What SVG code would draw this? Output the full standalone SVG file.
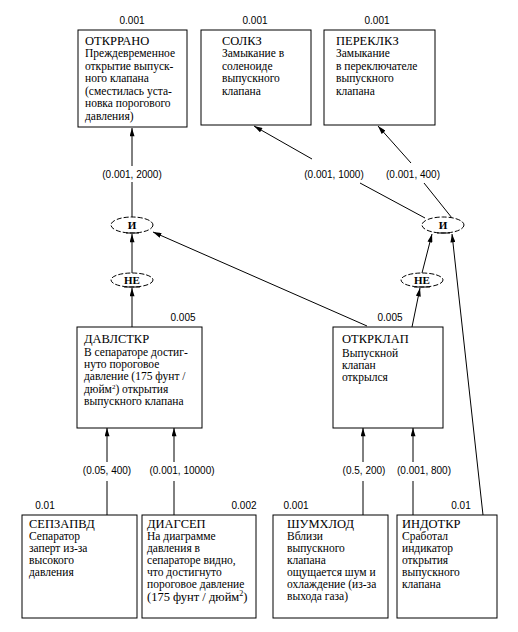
<svg xmlns="http://www.w3.org/2000/svg" width="518" height="632" viewBox="0 0 518 632">
<style>
.box{fill:#fff;stroke:#000;stroke-width:1}
.t{font-family:'Liberation Serif','Times New Roman',serif;font-size:12.5px;fill:#000}
.b{font-family:'Liberation Serif','Times New Roman',serif;font-size:11.5px;fill:#000}
.p{font-family:'Liberation Sans',Arial,sans-serif;font-size:10px;fill:#000;text-anchor:middle}
.g{fill:#fff;stroke:#000;stroke-width:1;stroke-dasharray:5 2}
.gl{font-family:'Liberation Serif','Times New Roman',serif;font-size:11px;font-weight:bold;fill:#000;text-anchor:middle}
.c{fill:none;stroke:#000;stroke-width:1}
.u{stroke:#000;stroke-width:1}
</style>
<defs>
<marker id="ah" viewBox="0 0 10 6" refX="10" refY="3" markerWidth="9" markerHeight="5" markerUnits="userSpaceOnUse" orient="auto">
<path d="M0,0 L10,3 L0,6 z" fill="#000"/>
</marker>
</defs>
<rect width="518" height="632" fill="#fff"/>

<g id="connectors">
<line class="c" x1="132" y1="217" x2="132" y2="182"/>
<line class="c" x1="132" y1="166" x2="132" y2="128" marker-end="url(#ah)"/>
<line class="c" x1="132" y1="273" x2="132" y2="234" marker-end="url(#ah)"/>
<line class="c" x1="132" y1="327" x2="132" y2="288" marker-end="url(#ah)"/>
<line class="c" x1="367" y1="326" x2="153" y2="232" marker-end="url(#ah)"/>
<line class="c" x1="425" y1="218" x2="360" y2="183"/>
<line class="c" x1="312" y1="159" x2="254" y2="126" marker-end="url(#ah)"/>
<line class="c" x1="452" y1="218" x2="424" y2="183"/>
<line class="c" x1="411" y1="163" x2="378" y2="126" marker-end="url(#ah)"/>
<line class="c" x1="422" y1="273" x2="432" y2="234" marker-end="url(#ah)"/>
<line class="c" x1="412" y1="327" x2="420" y2="288" marker-end="url(#ah)"/>
<line class="c" x1="483" y1="515" x2="452" y2="234" marker-end="url(#ah)"/>
<line class="c" x1="107" y1="515" x2="107" y2="481"/>
<line class="c" x1="107" y1="462" x2="107" y2="428" marker-end="url(#ah)"/>
<line class="c" x1="174" y1="515" x2="174" y2="481"/>
<line class="c" x1="174" y1="462" x2="174" y2="428" marker-end="url(#ah)"/>
<line class="c" x1="363" y1="515" x2="363" y2="481"/>
<line class="c" x1="363" y1="462" x2="363" y2="428" marker-end="url(#ah)"/>
<line class="c" x1="413" y1="515" x2="413" y2="481"/>
<line class="c" x1="413" y1="462" x2="413" y2="428" marker-end="url(#ah)"/>
<text class="p" x="132" y="178">(0.001, 2000)</text>
<text class="p" x="334" y="178">(0.001, 1000)</text>
<text class="p" x="413" y="178">(0.001, 400)</text>
<text class="p" x="107" y="474">(0.05, 400)</text>
<text class="p" x="182" y="474">(0.001, 10000)</text>
<text class="p" x="364" y="474">(0.5, 200)</text>
<text class="p" x="424" y="474">(0.001, 800)</text>
</g>

<g id="gate-and-left">
<ellipse class="g" cx="132" cy="225" rx="21" ry="8"/>
<text class="gl" x="132" y="229">И</text>
<line class="u" x1="126" y1="233" x2="139" y2="233"/>
</g>
<g id="gate-not-left">
<ellipse class="g" cx="132" cy="280" rx="21" ry="7"/>
<text class="gl" x="132" y="284">НЕ</text>
<line class="u" x1="124" y1="287" x2="140" y2="287"/>
</g>
<g id="gate-and-right">
<ellipse class="g" cx="443" cy="225" rx="21" ry="8"/>
<text class="gl" x="443" y="229">И</text>
<line class="u" x1="437" y1="233" x2="450" y2="233"/>
</g>
<g id="gate-not-right">
<ellipse class="g" cx="422" cy="280" rx="21" ry="7"/>
<text class="gl" x="422" y="284">НЕ</text>
<line class="u" x1="414" y1="287" x2="430" y2="287"/>
</g>

<g id="otkrrano">
<text class="p" x="132" y="24">0.001</text>
<rect class="box" x="78" y="30" width="109" height="97"/>
<text class="t" x="85" y="45">ОТКРРАНО</text>
<text class="b" x="85" y="57">Преждевременное</text>
<text class="b" x="85" y="70">открытие выпуск-</text>
<text class="b" x="85" y="82">ного клапана</text>
<text class="b" x="85" y="95">(сместилась уста-</text>
<text class="b" x="85" y="107">новка порогового</text>
<text class="b" x="85" y="120">давления)</text>
</g>

<g id="solkz">
<text class="p" x="255" y="24">0.001</text>
<rect class="box" x="201" y="30" width="110" height="95"/>
<text class="t" x="222" y="45">СОЛКЗ</text>
<text class="b" x="222" y="57">Замыкание в</text>
<text class="b" x="222" y="70">соленоиде</text>
<text class="b" x="222" y="82">выпускного</text>
<text class="b" x="222" y="95">клапана</text>
</g>

<g id="pereklkz">
<text class="p" x="377" y="24">0.001</text>
<rect class="box" x="324" y="30" width="111" height="95"/>
<text class="t" x="336" y="45">ПЕРЕКЛКЗ</text>
<text class="b" x="336" y="57">Замыкание</text>
<text class="b" x="336" y="70">в переключателе</text>
<text class="b" x="336" y="82">выпускного</text>
<text class="b" x="336" y="95">клапана</text>
</g>

<g id="davlstkr">
<text class="p" x="183" y="321">0.005</text>
<rect class="box" x="77" y="327" width="125" height="101"/>
<text class="t" x="84" y="343">ДАВЛСТКР</text>
<text class="b" x="84" y="356">В сепараторе достиг-</text>
<text class="b" x="84" y="368">нуто пороговое</text>
<text class="b" x="84" y="380">давление (175 фунт /</text>
<text class="b" x="84" y="393">дюйм<tspan font-size="7" dy="-4">2</tspan><tspan dy="4">) открытия</tspan></text>
<text class="b" x="84" y="405">выпускного клапана</text>
</g>

<g id="otkrklap">
<text class="p" x="390" y="321">0.005</text>
<rect class="box" x="333" y="327" width="110" height="101"/>
<text class="t" x="342" y="343">ОТКРКЛАП</text>
<text class="b" x="342" y="357">Выпускной</text>
<text class="b" x="342" y="369">клапан</text>
<text class="b" x="342" y="381">открылся</text>
</g>

<g id="sepzapvd">
<text class="p" x="45" y="509">0.01</text>
<rect class="box" x="22" y="515" width="115" height="103"/>
<text class="t" x="29" y="528">СЕПЗАПВД</text>
<text class="b" x="29" y="540">Сепаратор</text>
<text class="b" x="29" y="552">заперт из-за</text>
<text class="b" x="29" y="564">высокого</text>
<text class="b" x="29" y="576">давления</text>
</g>

<g id="diagsep">
<text class="p" x="244" y="509">0.002</text>
<rect class="box" x="142" y="515" width="114" height="103"/>
<text class="t" x="147" y="528">ДИАГСЕП</text>
<text class="b" x="147" y="540">На диаграмме</text>
<text class="b" x="147" y="552">давления в</text>
<text class="b" x="147" y="564">сепараторе видно,</text>
<text class="b" x="147" y="576">что достигнуто</text>
<text class="b" x="147" y="588">пороговое давление</text>
<text class="t" x="147" y="601">(175 фунт / дюйм<tspan font-size="8" dy="-5">2</tspan><tspan dy="5">)</tspan></text>
</g>

<g id="shumhlod">
<text class="p" x="296" y="509">0.001</text>
<rect class="box" x="273" y="515" width="115" height="103"/>
<text class="t" x="287" y="528">ШУМХЛОД</text>
<text class="b" x="287" y="540">Вблизи</text>
<text class="b" x="287" y="552">выпускного</text>
<text class="b" x="287" y="564">клапана</text>
<text class="b" x="287" y="576">ощущается шум и</text>
<text class="b" x="287" y="588">охлаждение (из-за</text>
<text class="b" x="287" y="600">выхода газа)</text>
</g>

<g id="indotkr">
<text class="p" x="461" y="509">0.01</text>
<rect class="box" x="397" y="515" width="100" height="103"/>
<text class="t" x="402" y="528">ИНДОТКР</text>
<text class="b" x="402" y="540">Сработал</text>
<text class="b" x="402" y="552">индикатор</text>
<text class="b" x="402" y="564">открытия</text>
<text class="b" x="402" y="576">выпускного</text>
<text class="b" x="402" y="588">клапана</text>
</g>
</svg>
